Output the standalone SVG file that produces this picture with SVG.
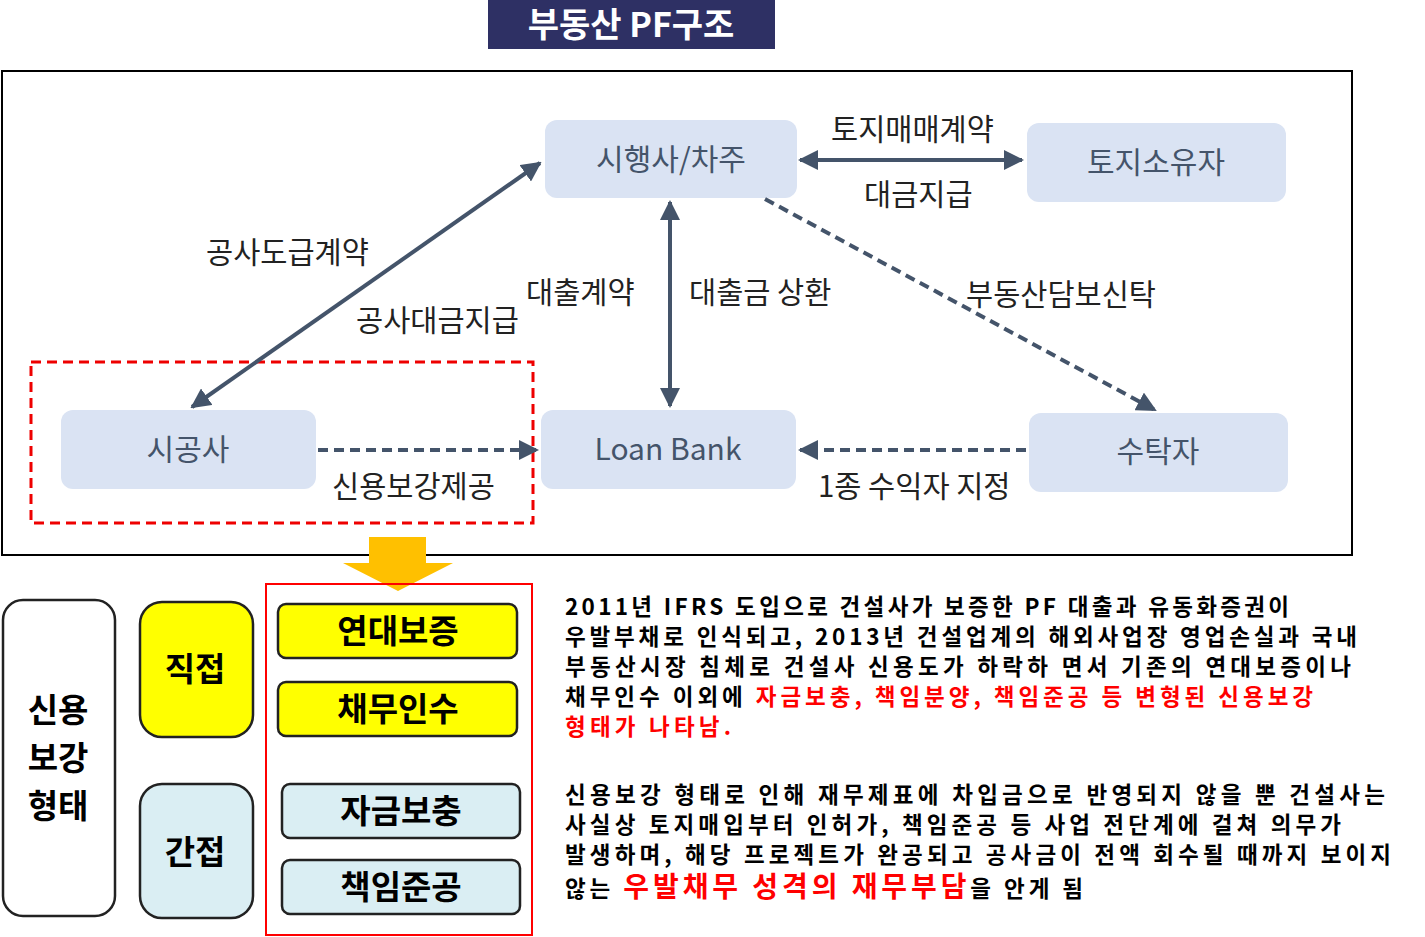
<svg xmlns="http://www.w3.org/2000/svg" width="1425" height="937" viewBox="0 0 1425 937">
<style>
text{font-family:"Noto Sans CJK KR","Noto Sans",sans-serif}
.nd{fill:#dae3f3}
.nt{font-size:30px;fill:#44546a;text-anchor:middle}
.lb{font-size:29.5px;fill:#222}
.ln{stroke:#44546a;stroke-width:4;fill:none}
.dl{stroke:#44546a;stroke-width:4;fill:none;stroke-dasharray:10,6}
.bx{stroke:#222;stroke-width:2.5}
.bt{font-size:33px;font-weight:bold;fill:#000;text-anchor:middle}
.p{font-size:22.5px;font-weight:bold;fill:#000}
.r{fill:#ff0000}
</style>
<defs>
<marker id="ah" viewBox="0 0 10 10" refX="9" refY="5" markerWidth="5" markerHeight="5" orient="auto-start-reverse"><path d="M0,0L10,5L0,10z" fill="#44546a"/></marker>
</defs>
<rect width="1425" height="937" fill="#fff"/>
<g id="title"><rect x="488" y="0" width="287" height="49" fill="#2e3064"/><text x="631" y="37" font-size="34" font-weight="bold" fill="#fff" text-anchor="middle">부동산 PF구조</text></g>
<rect x="2" y="71" width="1350" height="484" fill="none" stroke="#000" stroke-width="2"/>
<g id="n1"><rect class="nd" x="545" y="120" width="252" height="78" rx="12"/><text class="nt" x="671" y="170">시행사/차주</text></g>
<g id="n2"><rect class="nd" x="1027" y="123" width="259" height="79" rx="12"/><text class="nt" x="1156" y="173">토지소유자</text></g>
<g id="n3"><rect class="nd" x="61" y="410" width="255" height="79" rx="12"/><text class="nt" x="188" y="460">시공사</text></g>
<g id="n4"><rect class="nd" x="541" y="410" width="255" height="79" rx="12"/><text class="nt" x="668" y="460">Loan Bank</text></g>
<g id="n5"><rect class="nd" x="1029" y="413" width="259" height="79" rx="12"/><text class="nt" x="1158" y="462">수탁자</text></g>
<rect x="31" y="362" width="502" height="161" fill="none" stroke="#e00" stroke-width="3" stroke-dasharray="10,6"/>
<g id="connectors">
<line class="ln" x1="800" y1="160" x2="1022" y2="160" marker-start="url(#ah)" marker-end="url(#ah)"/>
<line class="ln" x1="192" y1="407" x2="540" y2="163" marker-start="url(#ah)" marker-end="url(#ah)"/>
<line class="ln" x1="670" y1="202" x2="670" y2="406" marker-start="url(#ah)" marker-end="url(#ah)"/>
<line class="dl" x1="765" y1="199" x2="1155" y2="410" marker-end="url(#ah)"/>
<line class="dl" x1="318" y1="450" x2="537" y2="450" marker-end="url(#ah)"/>
<line class="dl" x1="1026" y1="450" x2="800" y2="450" marker-end="url(#ah)"/>
</g>
<g id="labels">
<text class="lb" x="831" y="140">토지매매계약</text>
<text class="lb" x="864" y="205">대금지급</text>
<text class="lb" x="206" y="263">공사도급계약</text>
<text class="lb" x="356" y="331">공사대금지급</text>
<text class="lb" x="526" y="303">대출계약</text>
<text class="lb" x="689" y="303">대출금 상환</text>
<text class="lb" x="966" y="305">부동산담보신탁</text>
<text class="lb" x="332" y="497">신용보강제공</text>
<text class="lb" x="818" y="497">1종 수익자 지정</text>
</g>
<polygon points="369,537 426,537 426,563 453,563 398,591 343,563 369,563" fill="#ffc000"/>
<rect x="266" y="584" width="266" height="351" fill="none" stroke="#ff0000" stroke-width="2"/>
<g id="b1"><rect class="bx" x="3" y="600" width="112" height="316" rx="20" fill="#fff"/><text class="bt" x="58" y="722">신용</text><text class="bt" x="58" y="770">보강</text><text class="bt" x="58" y="818">형태</text></g>
<g id="b2"><rect class="bx" x="140" y="602" width="113" height="135" rx="22" fill="#ffff00"/><text class="bt" x="195" y="681">직접</text></g>
<g id="b3"><rect class="bx" x="140" y="784" width="113" height="134" rx="22" fill="#daeef3"/><text class="bt" x="195" y="864">간접</text></g>
<g id="b4"><rect class="bx" x="278" y="604" width="239" height="54" rx="8" fill="#ffff00"/><text class="bt" x="398" y="643">연대보증</text></g>
<g id="b5"><rect class="bx" x="278" y="682" width="239" height="54" rx="8" fill="#ffff00"/><text class="bt" x="398" y="721">채무인수</text></g>
<g id="b6"><rect class="bx" x="282" y="784" width="238" height="54" rx="8" fill="#daeef3"/><text class="bt" x="401" y="823">자금보충</text></g>
<g id="b7"><rect class="bx" x="282" y="860" width="238" height="54" rx="8" fill="#daeef3"/><text class="bt" x="401" y="899">책임준공</text></g>
<g id="para">
<text class="p" x="565" y="615" textLength="724" lengthAdjust="spacing">2011년 IFRS 도입으로 건설사가 보증한 PF 대출과 유동화증권이</text>
<text class="p" x="565" y="645" textLength="792" lengthAdjust="spacing">우발부채로 인식되고, 2013년 건설업계의 해외사업장 영업손실과 국내</text>
<text class="p" x="565" y="675" textLength="786" lengthAdjust="spacing">부동산시장 침체로 건설사 신용도가 하락하 면서 기존의 연대보증이나</text>
<text class="p" x="565" y="705" textLength="748" lengthAdjust="spacing">채무인수 이외에 <tspan class="r">자금보충, 책임분양, 책임준공 등 변형된 신용보강</tspan></text>
<text class="p r" x="565" y="735" textLength="166" lengthAdjust="spacing">형태가 나타남.</text>
<text class="p" x="565" y="803" textLength="820" lengthAdjust="spacing">신용보강 형태로 인해 재무제표에 차입금으로 반영되지 않을 뿐 건설사는</text>
<text class="p" x="565" y="833" textLength="776" lengthAdjust="spacing">사실상 토지매입부터 인허가, 책임준공 등 사업 전단계에 걸쳐 의무가</text>
<text class="p" x="565" y="863" textLength="826" lengthAdjust="spacing">발생하며, 해당 프로젝트가 완공되고 공사금이 전액 회수될 때까지 보이지</text>
<text class="p" x="565" y="897" textLength="518" lengthAdjust="spacing">않는 <tspan fill="#ff0000" font-size="28">우발채무 성격의 재무부담</tspan>을 안게 됨</text>
</g>
</svg>
